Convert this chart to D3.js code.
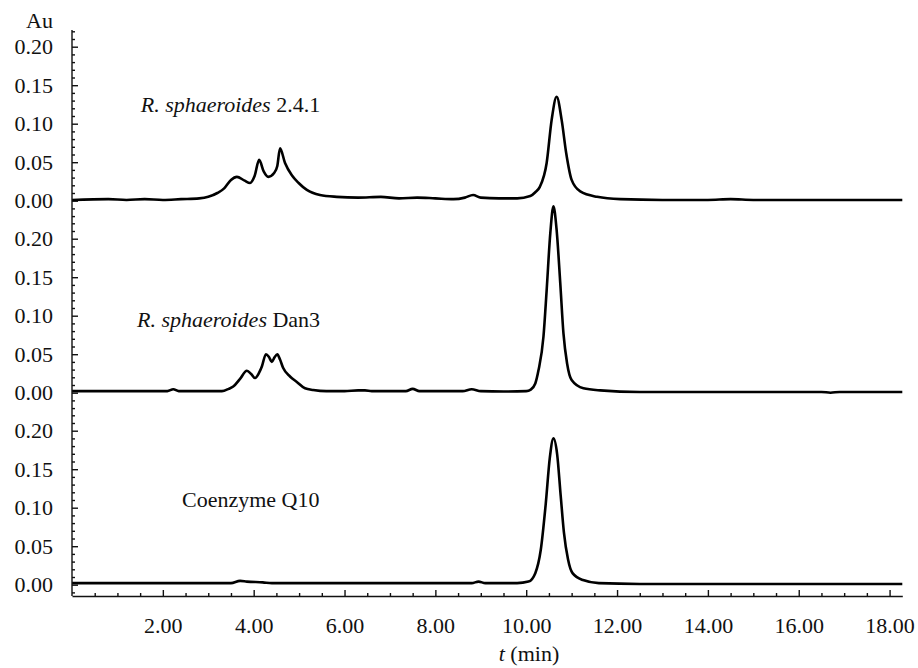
<!DOCTYPE html>
<html lang="en">
  <head>
    <meta charset="UTF-8">
    <title>HPLC chromatograms</title>
    <style>
      html, body {
        margin: 0;
        padding: 0;
        background: #fff;
      }

      svg text {
        fill: #111;
      }

      .trace {
        fill: none;
        stroke: #000;
        stroke-width: 2.6px;
        stroke-linejoin: round;
      }

      .axis path, .axis line {
        stroke: #111;
        stroke-width: 1.4px;
      }
    </style>
  </head>
  <body>
    <svg width="918" height="668"></svg>
    <script src="https://cdn.jsdelivr.net/npm/d3@7"></script>
    <script>

      // retention time ticks and absorbance ticks
      const xMajor = [2, 4, 6, 8, 10, 12, 14, 16, 18]
      const yMajor = [0, 0.05, 0.10, 0.15, 0.20]
      const panelNames = ['R. sphaeroides 2.4.1', 'R. sphaeroides Dan3', 'Coenzyme Q10']

      // trace 1: R. sphaeroides 2.4.1
      const t1 = [0, 0.8, 1.2, 1.6, 2.0, 2.4, 2.8, 3.0, 3.2, 3.35, 3.5, 3.63, 3.8, 3.92, 4.02, 4.12, 4.22, 4.32,
        4.45, 4.52, 4.58, 4.69, 4.84, 4.99, 5.17, 5.46, 5.83, 6.3, 6.8, 7.2, 7.6, 8.0, 8.4, 8.65, 8.83, 9.0,
        9.4, 9.8, 10.09, 10.2, 10.3, 10.45, 10.56, 10.67, 10.78, 10.88, 11.0, 11.19, 11.56, 12.07, 13, 14,
        14.5, 15, 16, 17, 18.28]
      const v1 = [0.001, 0.002, 0.001, 0.002, 0.001, 0.002, 0.003, 0.005, 0.010, 0.016, 0.027, 0.031, 0.026,
        0.023, 0.032, 0.053, 0.038, 0.031, 0.036, 0.045, 0.068, 0.049, 0.033, 0.023, 0.014, 0.0074, 0.005,
        0.004, 0.005, 0.003, 0.004, 0.003, 0.002, 0.004, 0.0074, 0.004, 0.003, 0.003, 0.006, 0.011, 0.018,
        0.049, 0.105, 0.135, 0.105, 0.062, 0.027, 0.012, 0.005, 0.002, 0.001, 0.001, 0.002, 0.001, 0.001,
        0.001, 0.001]

      // trace 2: R. sphaeroides Dan3
      const t2 = [0, 1.5, 2.1, 2.23, 2.35, 3.0, 3.3, 3.45, 3.55, 3.7, 3.85, 3.95, 4.03, 4.12, 4.18, 4.27, 4.34,
        4.4, 4.46, 4.52, 4.58, 4.65, 4.8, 4.95, 5.13, 5.31, 5.6, 6.0, 6.3, 6.45, 6.6, 7.0, 7.35, 7.5, 7.65,
        8.2, 8.6, 8.8, 9.0, 9.5, 10.0, 10.1, 10.2, 10.27, 10.38, 10.45, 10.53, 10.6, 10.67, 10.75, 10.82,
        10.9, 11.0, 11.26, 11.63, 12.5, 14, 16.5, 16.7, 16.9, 17.3, 18.28]
      const v2 = [0.002, 0.002, 0.002, 0.0045, 0.002, 0.002, 0.002, 0.005, 0.008, 0.018, 0.0286, 0.024, 0.019,
        0.026, 0.034, 0.050, 0.046, 0.040, 0.046, 0.050, 0.043, 0.032, 0.021, 0.014, 0.0057, 0.0035, 0.002,
        0.002, 0.003, 0.003, 0.002, 0.002, 0.002, 0.005, 0.002, 0.002, 0.002, 0.0045, 0.002, 0.0015, 0.002,
        0.004, 0.012, 0.029, 0.073, 0.133, 0.207, 0.242, 0.211, 0.142, 0.077, 0.038, 0.0165, 0.0057, 0.003,
        0.001, 0.001, 0.001, 0.0, 0.001, 0.001, 0.001]

      // trace 3: Coenzyme Q10 standard
      const t3 = [0, 2, 3.5, 3.7, 3.85, 4.2, 4.4, 6, 8, 8.8, 8.95, 9.1, 9.8, 10.05, 10.2, 10.32, 10.43, 10.52,
        10.6, 10.68, 10.76, 10.83, 10.92, 11.02, 11.25, 11.6, 12.5, 18.28]
      const v3 = [0.002, 0.002, 0.002, 0.005, 0.004, 0.003, 0.002, 0.002, 0.002, 0.002, 0.004, 0.002, 0.002,
        0.004, 0.015, 0.045, 0.105, 0.165, 0.19, 0.17, 0.115, 0.068, 0.033, 0.015, 0.006, 0.002, 0.001, 0.001]

      const traces = [[t1, v1], [t2, v2], [t3, v3]]

      const serif = "'Liberation Serif', 'DejaVu Serif', serif"
      const fs = '22px'
      const svg = d3.select('svg')

      // time scale
      const x = d3.scaleLinear().domain([0, 18.28]).range([72, 902.3])

      // baseline of each stacked panel
      const panelBase = d3.scaleLinear().domain([0, 2]).range([200.7, 584.7])
      const panelY = i => d3.scaleLinear().domain([0, 0.2]).range([panelBase(i), panelBase(i) - 154])

      const line = d3.line().curve(d3.curveMonotoneX)

      traces.forEach(function (tr, i) {
        const y = panelY(i)
        const pts = tr[0].map(function (t, k) { return [x(t), y(tr[1][k])] })

        // minor ticks every 0.01, pointing inward
        const minor = d3.range(-2, 23).map(function (k) { return k / 100 })
          .filter(function (v) { return y(v) >= 29 && y(v) <= 594 && Math.round(v * 100) % 5 !== 0 })
        svg.append('g').attr('class', 'axis')
          .attr('transform', 'translate(72,0)')
          .call(d3.axisLeft(y).tickValues(minor).tickSize(-3).tickFormat(''))
          .call(function (g) { g.select('.domain').remove() })

        svg.append('g').attr('class', 'axis')
          .attr('transform', 'translate(72,0)')
          .call(d3.axisLeft(y).tickValues(yMajor).tickSize(-6).tickPadding(19).tickFormat(d3.format('.2f')))
          .attr('font-family', serif)
          .attr('font-size', fs)
          .call(function (g) { g.select('.domain').remove() })

        svg.append('path')
          .attr('class', 'trace')
          .attr('d', line(pts))
      })

      // y axis spine
      svg.append('line')
        .attr('x1', 72).attr('x2', 72).attr('y1', 30).attr('y2', 596)
        .attr('stroke', '#111').attr('stroke-width', 1.4)

      // x axis
      svg.append('g').attr('class', 'axis')
        .attr('transform', 'translate(0,596)')
        .call(d3.axisBottom(x).tickValues(d3.range(0.5, 18.3, 0.5).filter(function (v) { return v % 2 !== 0 }))
          .tickSize(-3).tickSizeOuter(0).tickFormat(''))
      svg.append('g').attr('class', 'axis')
        .attr('transform', 'translate(0,596)')
        .call(d3.axisBottom(x).tickValues(xMajor).tickSize(-6).tickSizeOuter(0).tickPadding(21)
          .tickFormat(d3.format('.2f')))
        .attr('font-family', serif)
        .attr('font-size', fs)
        .call(function (g) { g.select('.domain').remove() })

      // axis titles
      svg.append('text')
        .attr('x', 53).attr('y', 28)
        .attr('text-anchor', 'end')
        .attr('font-family', serif)
        .attr('font-size', fs)
        .text('Au')

      const xt = svg.append('text')
        .attr('x', 529).attr('y', 661)
        .attr('text-anchor', 'middle')
        .attr('font-family', serif)
        .attr('font-size', fs)
      xt.append('tspan').attr('font-style', 'italic').text('t')
      xt.append('tspan').text(' (min)')

      // sample labels
      const labelPos = [[140.7, 112], [137, 327], [182, 507]]
      panelNames.forEach(function (name, i) {
        const lab = svg.append('text')
          .attr('x', labelPos[i][0]).attr('y', labelPos[i][1])
          .attr('font-family', serif)
          .attr('font-size', fs)
        if (name.indexOf('R. sphaeroides') === 0) {
          lab.append('tspan').attr('font-style', 'italic').text('R. sphaeroides')
          lab.append('tspan').text(name.slice(14))
        } else {
          lab.text(name)
        }
      })

    </script>
  </body>
</html>
